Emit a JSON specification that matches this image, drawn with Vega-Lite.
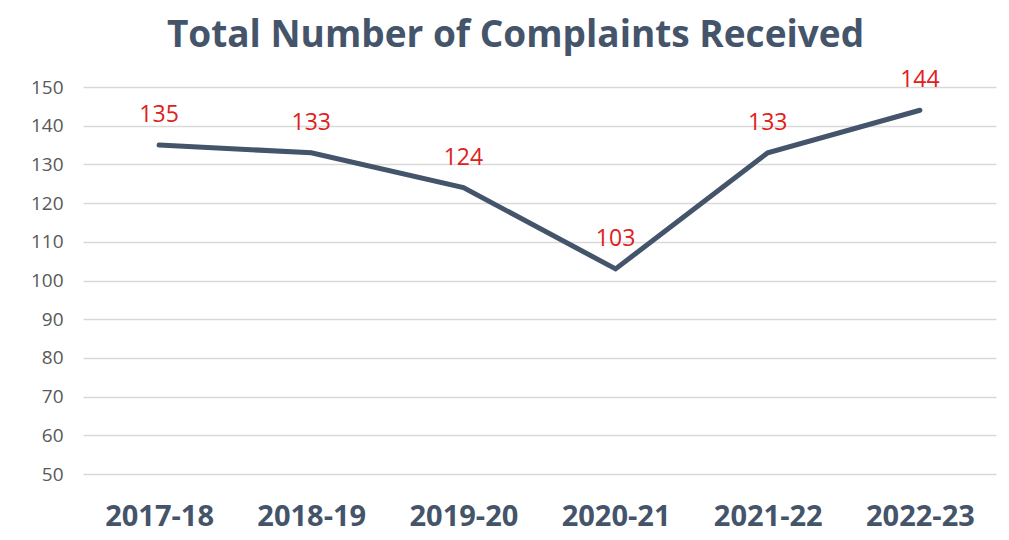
{
  "$schema": "https://vega.github.io/schema/vega-lite/v6.json",
  "width": 913,
  "height": 387,
  "autosize": {"type": "none"},
  "padding": {"left": 83, "top": 87, "right": 13, "bottom": 66},
  "background": "white",
  "title": {
    "text": "Total Number of Complaints Received",
    "font": "Open Sans",
    "fontSize": 37,
    "fontWeight": "bold",
    "color": "#44546A",
    "anchor": "middle",
    "dx": -24,
    "offset": 14
  },
  "data": {
    "values": [
      {"year": "2017-18", "complaints": 135},
      {"year": "2018-19", "complaints": 133},
      {"year": "2019-20", "complaints": 124},
      {"year": "2020-21", "complaints": 103},
      {"year": "2021-22", "complaints": 133},
      {"year": "2022-23", "complaints": 144}
    ]
  },
  "encoding": {
    "x": {
      "field": "year",
      "type": "ordinal",
      "sort": null,
      "scale": {"type": "point", "padding": 0.5},
      "axis": {
        "title": null,
        "domain": false,
        "ticks": false,
        "grid": false,
        "labelAngle": 0,
        "labelFont": "Open Sans",
        "labelFontSize": 29,
        "labelFontWeight": "bold",
        "labelColor": "#44546A",
        "labelPadding": 28
      }
    },
    "y": {
      "field": "complaints",
      "type": "quantitative",
      "scale": {"domain": [50, 150], "nice": false, "zero": false},
      "axis": {
        "title": null,
        "domain": false,
        "ticks": false,
        "values": [50, 60, 70, 80, 90, 100, 110, 120, 130, 140, 150],
        "grid": true,
        "gridColor": "#D9D9D9",
        "gridWidth": 1.3,
        "labelFont": "Open Sans",
        "labelFontSize": 19,
        "labelColor": "#595959",
        "labelPadding": 20
      }
    }
  },
  "layer": [
    {
      "mark": {"type": "line", "color": "#44546A", "strokeWidth": 5, "strokeCap": "round", "strokeJoin": "miter"}
    },
    {
      "mark": {"type": "text", "color": "#E0201B", "font": "Open Sans", "fontSize": 23, "baseline": "alphabetic", "dy": -23},
      "encoding": {"text": {"field": "complaints", "type": "quantitative"}}
    }
  ],
  "config": {"view": {"stroke": null}}
}
